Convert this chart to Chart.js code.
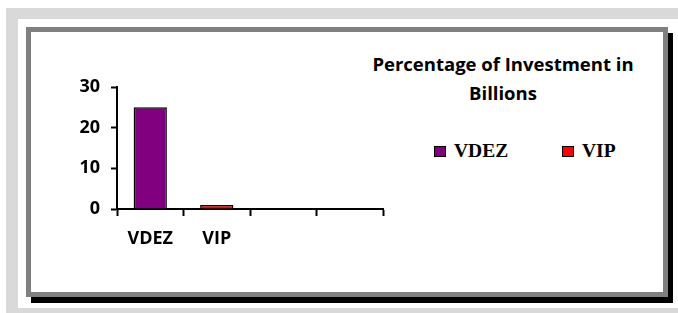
<!DOCTYPE html>
<html>
<head>
<meta charset="utf-8">
<script src="https://cdn.jsdelivr.net/npm/chart.js@4.4.1/dist/chart.umd.min.js"></script>
<style>
  html, body { margin: 0; padding: 0; background: #fff; overflow: hidden; }
  #stage { position: relative; width: 678px; height: 313px; overflow: hidden; }
  .outer { position: absolute; left: 6px; top: 8px; width: 700px; height: 330px; background: #d9d9d9; }
  .inner { position: absolute; left: 18px; top: 19px; width: 700px; height: 289px; background: #fff; }
  .frame { position: absolute; left: 26px; top: 27px; width: 632px; height: 260px;
           border: 5px solid #808080; background: #fff; box-shadow: 5px 6px 0 #000; }
  #chart { position: absolute; left: 0; top: 0; }
  .title { position: absolute; left: 353px; width: 300px; text-align: center;
           font-family: "Open Sans", sans-serif; font-weight: bold; font-size: 18.5px; color: #000;
           line-height: 29px; top: 49px; }
  #legend { position: absolute; top: 140px; left: 434px; font-family: "Liberation Serif", serif;
            font-weight: bold; font-size: 19.5px; color: #000; white-space: nowrap; }
  #legend span.item { position: absolute; top: 0; display: flex; align-items: center; }
  #legend span.box { display: inline-block; width: 10px; height: 9px; border: 1.5px solid #000; margin-right: 8px; }
</style>
</head>
<body>
<div id="stage">
  <div class="outer"></div>
  <div class="inner"></div>
  <div class="frame"></div>
  <div class="title">Percentage of Investment in<br>Billions</div>
  <div id="legend"></div>
  <canvas id="chart" width="678" height="313"></canvas>
</div>
<script>
const categories = ['VDEZ', 'VIP', '', ''];
const investment = [25, 1, null, null];
const barColors = ['#800080', '#ff0000', '#800080', '#ff0000'];
const legendNames = ['VDEZ', 'VIP'];
const yTicks = [0, 10, 20, 30];

// legend built from the series names
const legendEl = document.getElementById('legend');
const legendOffsets = [0, 128];
legendNames.forEach((name, i) => {
    const item = document.createElement('span');
    item.className = 'item';
    item.style.left = legendOffsets[i] + 'px';
    item.innerHTML = '<span class="box" style="background:' + barColors[i] + '"></span>' + name;
    legendEl.appendChild(item);
});

const tickFont = { family: 'Open Sans', weight: 'bold', size: 18 };

const ctx = document.getElementById('chart').getContext('2d');
const investmentChart = new Chart(ctx, {
    type: 'bar',
    data: {
        labels: categories,
        datasets: [
            {
                label: 'Percentage of Investment in Billions',
                data: investment,
                backgroundColor: barColors,
                borderColor: '#000',
                borderWidth: 1.5,
                barPercentage: 0.5,
                categoryPercentage: 1.0
            }
        ]
    },
    options: {
        responsive: false,
        animation: false,
        devicePixelRatio: 1,
        layout: {
            padding: { left: 40, top: 87, right: 295, bottom: 54 }
        },
        plugins: {
            legend: { display: false },
            title: { display: false },
            tooltip: { enabled: false }
        },
        scales: {
            x: {
                grid: {
                    display: true,
                    drawOnChartArea: false,
                    drawTicks: true,
                    tickLength: 7,
                    tickColor: '#000',
                    tickWidth: 2,
                    offset: true
                },
                border: { color: '#000', width: 2 },
                ticks: { color: '#000', font: tickFont, padding: 12, maxRotation: 0 },
                afterFit: (scale) => { scale.height = 50; }
            },
            y: {
                min: yTicks[0],
                max: yTicks[yTicks.length - 1],
                grid: {
                    display: true,
                    drawOnChartArea: false,
                    drawTicks: true,
                    tickLength: 6,
                    tickColor: '#000',
                    tickWidth: 2
                },
                border: { color: '#000', width: 2 },
                ticks: { color: '#000', font: tickFont, stepSize: 10, padding: 11 },
                afterFit: (scale) => { scale.width = 77; }
            }
        }
    }
});
</script>
</body>
</html>
